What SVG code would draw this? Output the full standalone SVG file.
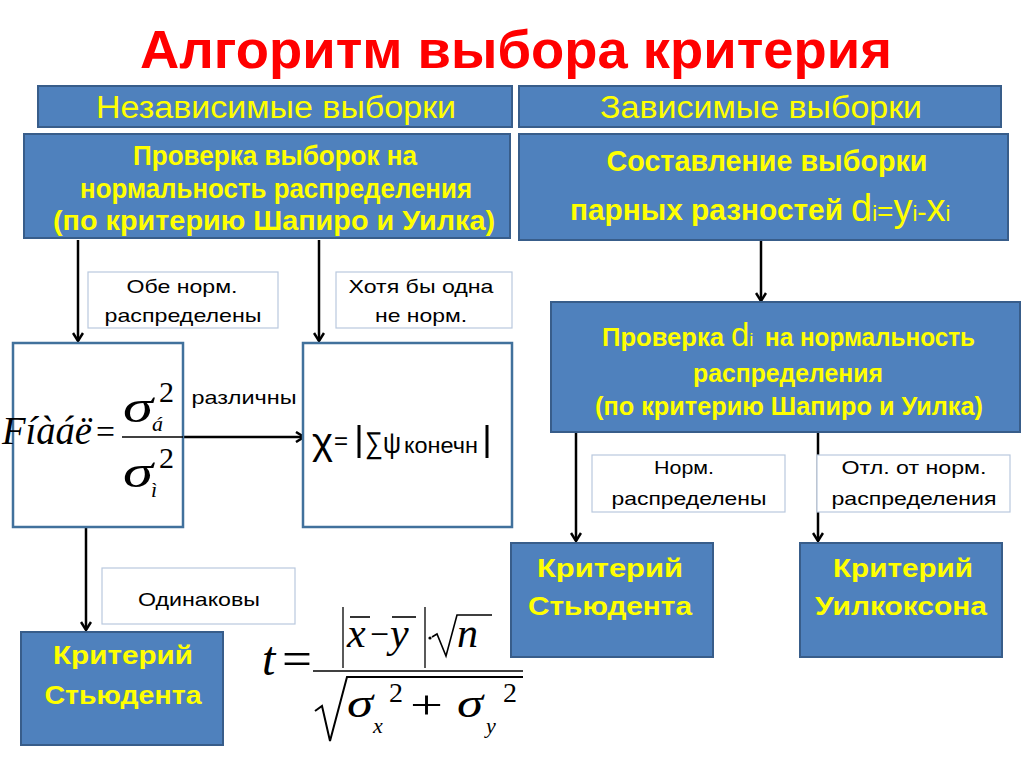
<svg xmlns="http://www.w3.org/2000/svg" width="1024" height="767" viewBox="0 0 1024 767">
<defs>
<style>
.blue{fill:#4F81BD;stroke:#385D8A;stroke-width:2}
.wbox{fill:#FFFFFF;stroke:#41719C;stroke-width:2.5}
.lbl{fill:#FFFFFF;stroke:#B9C9DE;stroke-width:1.2}
.sans{font-family:"Liberation Sans",Arial,sans-serif}
.yb{fill:#FFFF00;font-weight:bold;text-anchor:middle}
.yn{fill:#FFFF00;text-anchor:middle}
.bk{fill:#000000;text-anchor:middle;font-size:19px}
.math{font-family:"Liberation Serif","Times New Roman",serif;fill:#000}
.conn{stroke:#000;stroke-width:2.5;fill:none;marker-end:url(#ah)}
</style>
<marker id="ah" viewBox="0 0 12 12" refX="10" refY="6" markerWidth="12" markerHeight="12" markerUnits="userSpaceOnUse" orient="auto">
<path d="M2,1 L10,6 L2,11" fill="none" stroke="#000" stroke-width="2.5"/>
</marker>
</defs>
<rect width="1024" height="767" fill="#FFFFFF"/>
<text x="516" y="68" class="sans" text-anchor="middle" font-size="54" font-weight="bold" fill="#FF0000" textLength="752" lengthAdjust="spacingAndGlyphs">Алгоритм выбора критерия</text>

<g id="connectors">
<line x1="78" y1="240" x2="78" y2="341" class="conn"/>
<line x1="319" y1="240" x2="319" y2="341" class="conn"/>
<line x1="183" y1="437" x2="304" y2="437" class="conn"/>
<line x1="86" y1="528" x2="86" y2="630" class="conn"/>
<line x1="761" y1="241" x2="761" y2="301" class="conn"/>
<line x1="576" y1="432" x2="576" y2="541" class="conn"/>
<line x1="818" y1="432" x2="818" y2="541" class="conn"/>
</g>

<g id="hdr-indep">
<rect x="38" y="86" width="474" height="41" class="blue"/>
<text x="276" y="118" class="sans yn" font-size="31" textLength="360" lengthAdjust="spacingAndGlyphs">Независимые выборки</text>
</g>
<g id="hdr-dep">
<rect x="519" y="86" width="482" height="41" class="blue"/>
<text x="761" y="118" class="sans yn" font-size="31" textLength="322" lengthAdjust="spacingAndGlyphs">Зависимые выборки</text>
</g>

<g id="check-indep">
<rect x="24" y="134" width="486" height="104" class="blue"/>
<text x="275" y="165" class="sans yb" font-size="27" textLength="284" lengthAdjust="spacingAndGlyphs">Проверка выборок на</text>
<text x="276" y="198" class="sans yb" font-size="27" textLength="392" lengthAdjust="spacingAndGlyphs">нормальность распределения</text>
<text x="274" y="230" class="sans yb" font-size="27" textLength="442" lengthAdjust="spacingAndGlyphs">(по критерию Шапиро и Уилка)</text>
</g>

<g id="paired">
<rect x="519" y="134" width="489" height="106" class="blue"/>
<text x="767" y="171" class="sans yb" font-size="30" textLength="321" lengthAdjust="spacingAndGlyphs">Составление выборки</text>
<text x="570" y="220" class="sans" font-weight="bold" fill="#FFFF00" font-size="30" textLength="273" lengthAdjust="spacingAndGlyphs">парных разностей</text>
<text x="851" y="221" class="sans" fill="#FFFF00" font-size="38">d<tspan font-size="22">i</tspan><tspan font-size="28">=</tspan>y<tspan font-size="22">i</tspan><tspan font-size="28">-</tspan>x<tspan font-size="22">i</tspan></text>
</g>

<g id="lbl-both">
<rect x="88" y="272" width="190" height="56" class="lbl"/>
<text x="182" y="293" class="sans bk" textLength="111" lengthAdjust="spacingAndGlyphs">Обе норм.</text>
<text x="183" y="322" class="sans bk" textLength="157" lengthAdjust="spacingAndGlyphs">распределены</text>
</g>
<g id="lbl-one">
<rect x="336" y="272" width="176" height="56" class="lbl"/>
<text x="421" y="293" class="sans bk" textLength="145" lengthAdjust="spacingAndGlyphs">Хотя бы одна</text>
<text x="421" y="322" class="sans bk" textLength="92" lengthAdjust="spacingAndGlyphs">не норм.</text>
</g>

<g id="fisher">
<rect x="13" y="343" width="170" height="184" class="wbox"/>
<text x="2" y="444" class="math" font-size="40" font-style="italic" textLength="90" lengthAdjust="spacingAndGlyphs">Fíàáë</text>
<text x="96" y="443" class="math" font-size="34" textLength="19" lengthAdjust="spacingAndGlyphs">=</text>
<line x1="122" y1="437" x2="183" y2="437" stroke="#000" stroke-width="1.6"/>
<text x="123" y="422" class="math" font-size="46" font-style="italic" textLength="30" lengthAdjust="spacingAndGlyphs">σ</text>
<text x="152" y="431" class="math" font-size="22" font-style="italic">á</text>
<text x="159" y="402" class="math" font-size="30">2</text>
<text x="123" y="487" class="math" font-size="46" font-style="italic" textLength="30" lengthAdjust="spacingAndGlyphs">σ</text>
<text x="151" y="497" class="math" font-size="22" font-style="italic">ì</text>
<text x="159" y="468" class="math" font-size="30">2</text>
</g>
<text x="244" y="404" class="sans bk" textLength="105" lengthAdjust="spacingAndGlyphs">различны</text>

<g id="chi">
<rect x="303" y="343" width="209" height="184" class="wbox"/>
<text x="312" y="454" class="sans" font-size="36" fill="#000" textLength="21" lengthAdjust="spacingAndGlyphs">χ</text>
<text x="334" y="449" class="sans" font-size="24" fill="#000">=</text>
<line x1="359" y1="425" x2="359" y2="458" stroke="#000" stroke-width="3"/>
<text x="365" y="453" class="sans" font-size="30" fill="#000" textLength="36" lengthAdjust="spacingAndGlyphs">∑ψ</text>
<text x="404" y="453" class="sans" font-size="22" fill="#000" textLength="74" lengthAdjust="spacingAndGlyphs">конечн</text>
<line x1="487" y1="425" x2="487" y2="458" stroke="#000" stroke-width="3"/>
</g>

<g id="lbl-same">
<rect x="102" y="568" width="193" height="56" class="lbl"/>
<text x="199" y="606" class="sans bk" textLength="122" lengthAdjust="spacingAndGlyphs">Одинаковы</text>
</g>

<g id="student-left">
<rect x="21" y="632" width="202" height="113" class="blue"/>
<text x="123" y="664" class="sans yb" font-size="26" textLength="140" lengthAdjust="spacingAndGlyphs">Критерий</text>
<text x="123" y="704" class="sans yb" font-size="26" textLength="157" lengthAdjust="spacingAndGlyphs">Стьюдента</text>
</g>

<g id="t-formula">
<text x="262" y="675" class="math" font-size="48" font-style="italic">t</text>
<text x="282" y="675" class="math" font-size="48" textLength="30" lengthAdjust="spacingAndGlyphs">=</text>
<line x1="313" y1="671" x2="523" y2="671" stroke="#000" stroke-width="1.6"/>
<line x1="343" y1="607" x2="343" y2="668" stroke="#000" stroke-width="1.3"/>
<line x1="425" y1="607" x2="425" y2="668" stroke="#000" stroke-width="1.3"/>
<line x1="350" y1="617" x2="370" y2="617" stroke="#000" stroke-width="1.6"/>
<line x1="392" y1="617" x2="416" y2="617" stroke="#000" stroke-width="1.6"/>
<text x="347" y="647" class="math" font-size="42" font-style="italic">x</text>
<text x="370" y="646" class="math" font-size="36" textLength="19" lengthAdjust="spacingAndGlyphs">−</text>
<text x="390" y="647" class="math" font-size="42" font-style="italic">y</text>
<circle cx="430" cy="638" r="1.6" fill="#000"/>
<path d="M432,637 L437,634 L446,656 L457,615 L492,615" fill="none" stroke="#000" stroke-width="1.6"/>
<text x="457" y="647" class="math" font-size="42" font-style="italic">n</text>
<path d="M315,711 L322,706 L330,741 L347,677 L523,677" fill="none" stroke="#000" stroke-width="2"/>
<text x="347" y="717" class="math" font-size="42" font-style="italic" textLength="26" lengthAdjust="spacingAndGlyphs">σ</text>
<text x="373" y="733" class="math" font-size="22" font-style="italic">x</text>
<text x="389" y="702" class="math" font-size="28">2</text>
<text x="410" y="718" class="math" font-size="40" textLength="33" lengthAdjust="spacingAndGlyphs">+</text>
<text x="457" y="717" class="math" font-size="42" font-style="italic" textLength="26" lengthAdjust="spacingAndGlyphs">σ</text>
<text x="486" y="733" class="math" font-size="22" font-style="italic">y</text>
<text x="503" y="702" class="math" font-size="28">2</text>
</g>

<g id="check-di">
<rect x="551" y="302" width="469" height="130" class="blue"/>
<text x="602" y="346" class="sans" font-weight="bold" fill="#FFFF00" font-size="25" textLength="122" lengthAdjust="spacingAndGlyphs">Проверка</text>
<text x="731" y="346" class="sans" fill="#FFFF00" font-size="33">d<tspan font-size="19">i</tspan></text>
<text x="765" y="346" class="sans" font-weight="bold" fill="#FFFF00" font-size="25" textLength="210" lengthAdjust="spacingAndGlyphs">на нормальность</text>
<text x="788" y="382" class="sans yb" font-size="25" textLength="190" lengthAdjust="spacingAndGlyphs">распределения</text>
<text x="789" y="415" class="sans yb" font-size="25" textLength="388" lengthAdjust="spacingAndGlyphs">(по критерию Шапиро и Уилка)</text>
</g>

<g id="lbl-norm">
<rect x="592" y="455" width="193" height="57" class="lbl"/>
<text x="684" y="474" class="sans bk" textLength="60" lengthAdjust="spacingAndGlyphs">Норм.</text>
<text x="689" y="505" class="sans bk" textLength="155" lengthAdjust="spacingAndGlyphs">распределены</text>
</g>
<g id="lbl-notnorm">
<rect x="817" y="455" width="193" height="57" class="lbl"/>
<text x="914" y="474" class="sans bk" textLength="145" lengthAdjust="spacingAndGlyphs">Отл. от норм.</text>
<text x="914" y="505" class="sans bk" textLength="165" lengthAdjust="spacingAndGlyphs">распределения</text>
</g>

<g id="student-right">
<rect x="511" y="543" width="202" height="114" class="blue"/>
<text x="610" y="577" class="sans yb" font-size="26" textLength="146" lengthAdjust="spacingAndGlyphs">Критерий</text>
<text x="610" y="615" class="sans yb" font-size="26" textLength="164" lengthAdjust="spacingAndGlyphs">Стьюдента</text>
</g>
<g id="wilcoxon">
<rect x="800" y="543" width="202" height="114" class="blue"/>
<text x="903" y="577" class="sans yb" font-size="26" textLength="140" lengthAdjust="spacingAndGlyphs">Критерий</text>
<text x="901" y="615" class="sans yb" font-size="26" textLength="172" lengthAdjust="spacingAndGlyphs">Уилкоксона</text>
</g>
</svg>
